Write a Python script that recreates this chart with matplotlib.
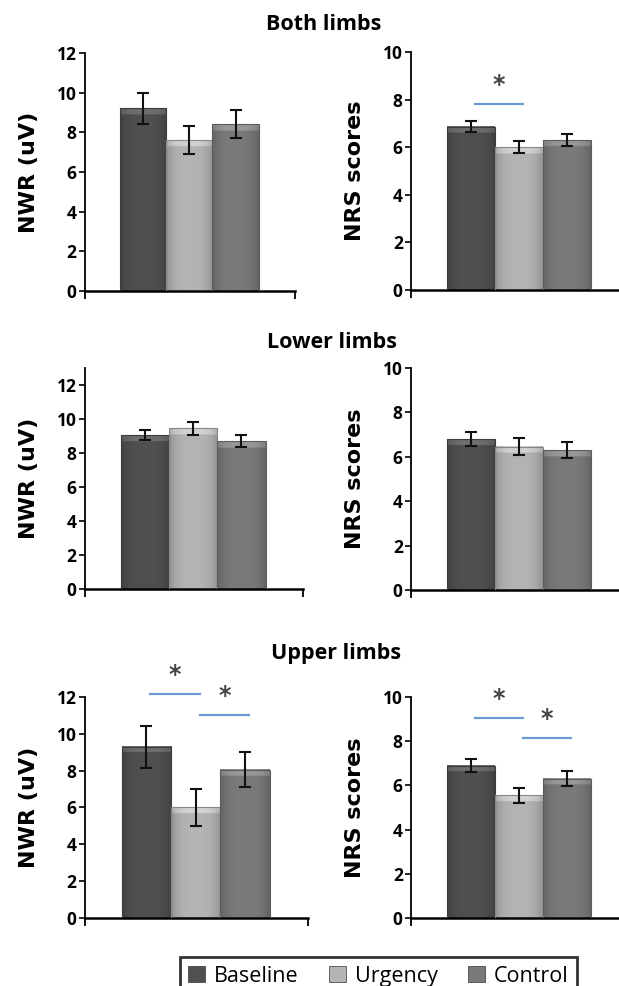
import numpy as np
import matplotlib
matplotlib.use("Agg")
from matplotlib import pyplot as plt
from matplotlib.colors import to_rgb
from matplotlib.patches import Rectangle

groups = ['Baseline', 'Urgency', 'Control']

nwr_both = [9.2, 7.6, 8.4]
nwr_both_err = [0.8, 0.7, 0.7]
nrs_both = [6.85, 6.0, 6.3]
nrs_both_err = [0.23, 0.26, 0.24]

nwr_lower = [9.05, 9.45, 8.7]
nwr_lower_err = [0.3, 0.4, 0.35]
nrs_lower = [6.8, 6.45, 6.3]
nrs_lower_err = [0.3, 0.38, 0.35]

nwr_upper = [9.3, 6.0, 8.05]
nwr_upper_err = [1.15, 1.0, 0.95]
nrs_upper = [6.9, 5.55, 6.3]
nrs_upper_err = [0.3, 0.33, 0.35]

# significance: (group a, group b, height of line)
sig_nrs_both = [(0, 1, 7.8)]
sig_nwr_upper = [(0, 1, 12.15), (1, 2, 11.0)]
sig_nrs_upper = [(0, 1, 9.05), (1, 2, 8.15)]

titles = ['Both limbs', 'Lower limbs', 'Upper limbs']

bar_colors = ['#505050', '#b4b4b4', '#7a7a7a']

fig = plt.figure(figsize=(6.19, 9.86), dpi=100)


def shaded_bar(ax, x, h, color, px_per_unit):
    c = np.array(to_rgb(color))
    nx, ny = 40, 200
    u = np.linspace(-1, 1, nx)
    edge = 1 - 0.18 * np.abs(u) ** 3
    img = np.ones((ny, nx, 3)) * c
    img *= edge[None, :, None]
    # lighter bevel band on top of the bar
    band = min(6.0 / max(h * px_per_unit, 1), 0.5)
    rows = np.linspace(1, 0, ny)
    top = rows > 1 - band
    light = np.clip(c + 0.12, 0, 1)
    img[top] = light * edge[None, :, None].repeat(top.sum(), axis=0)
    ax.imshow(img, extent=(x - 0.5, x + 0.5, 0, h), aspect='auto',
              interpolation='bilinear', zorder=2)
    ax.add_patch(Rectangle((x - 0.5, 0), 1, h, fill=False,
                           edgecolor=(c * 0.75), lw=0.8, zorder=3))


def panel(rect, vals, errs, ymax, yticks, ylabel, sig):
    ax = fig.add_axes(rect)
    xs = np.arange(len(vals))
    ax.set_xlim(-1.25, 3.27)
    ax.set_ylim(0, ymax)
    px_per_unit = rect[3] * 986 / ymax
    for x, v, col in zip(xs, vals, bar_colors):
        shaded_bar(ax, x, v, col, px_per_unit)
    ax.errorbar(xs, vals, yerr=errs, fmt='none', ecolor='#111111',
                elinewidth=1.5, capsize=4, capthick=1.5, zorder=4)
    ax.set_xlim(-1.25, 3.27)
    ax.set_ylim(0, ymax)
    for a, b, y in sig:
        ax.plot([a + 0.08, b + 0.08], [y, y], color='#6d9bd8', lw=1.6,
                clip_on=False, zorder=5)
        ax.annotate('*', xy=((a + b) / 2 + 0.08, y), xytext=(0, 5),
                    textcoords='offset points', ha='center', va='bottom',
                    fontsize=17, fontweight='bold', color='#444444',
                    annotation_clip=False)
    for s in ['top', 'right']:
        ax.spines[s].set_visible(False)
    ax.spines['left'].set_linewidth(1.3)
    ax.spines['bottom'].set_linewidth(1.8)
    ax.set_yticks(yticks)
    ax.set_yticklabels([str(t) for t in yticks], fontsize=12.5,
                       fontweight='bold', family='Open Sans')
    ax.tick_params(axis='y', direction='out', length=4, width=1.2, pad=2)
    ax.set_xticks([-1.25, 3.27])
    ax.set_xticklabels(['', ''])
    ax.tick_params(axis='x', direction='out', length=6, width=1.3)
    ax.set_ylabel(ylabel, fontsize=16, fontweight='bold', family='DejaVu Sans')
    # right edge of the rotated label about 46 px left of the spine
    ax.yaxis.set_label_coords(-46 / (rect[2] * 619), 0.5)
    ax.patch.set_alpha(0)
    return ax


W = 0.350
lx, rx = 0.137, 0.664

panel([lx, 0.7049, 0.339, 0.2414], nwr_both, nwr_both_err, 12,
      range(0, 13, 2), 'NWR (uV)', [])
panel([rx, 0.7059, W, 0.2414], nrs_both, nrs_both_err, 10,
      range(0, 11, 2), 'NRS scores', sig_nrs_both)

panel([lx, 0.4026, 0.352, 0.2241], nwr_lower, nwr_lower_err, 13,
      range(0, 13, 2), 'NWR (uV)', [])
panel([rx, 0.4016, W, 0.2252], nrs_lower, nrs_lower_err, 10,
      range(0, 11, 2), 'NRS scores', [])

panel([lx, 0.0690, 0.360, 0.2241], nwr_upper, nwr_upper_err, 12,
      range(0, 13, 2), 'NWR (uV)', sig_nwr_upper)
panel([rx, 0.0690, W, 0.2241], nrs_upper, nrs_upper_err, 10,
      range(0, 11, 2), 'NRS scores', sig_nrs_upper)

for t, x, y in zip(titles, [324, 332, 336], [25, 342, 653]):
    fig.text(x / 619, 1 - y / 986, t, ha='center', va='center',
             fontsize=15.5, fontweight='bold', family='Open Sans')

handles = [Rectangle((0, 0), 1, 1, facecolor=c, edgecolor='#333333', lw=0.5)
           for c in bar_colors]
leg = fig.legend(handles, groups, loc='upper center',
                 bbox_to_anchor=(0.611, 1 - 957 / 986), ncol=3, frameon=True,
                 fancybox=False, edgecolor='black', borderaxespad=0,
                 handlelength=0.8, handleheight=0.8, handletextpad=0.4,
                 columnspacing=1.4, borderpad=0.4,
                 prop={'family': 'Open Sans', 'size': 15.5})
leg.get_frame().set_linewidth(2)

fig.savefig('out.png', dpi=100)
